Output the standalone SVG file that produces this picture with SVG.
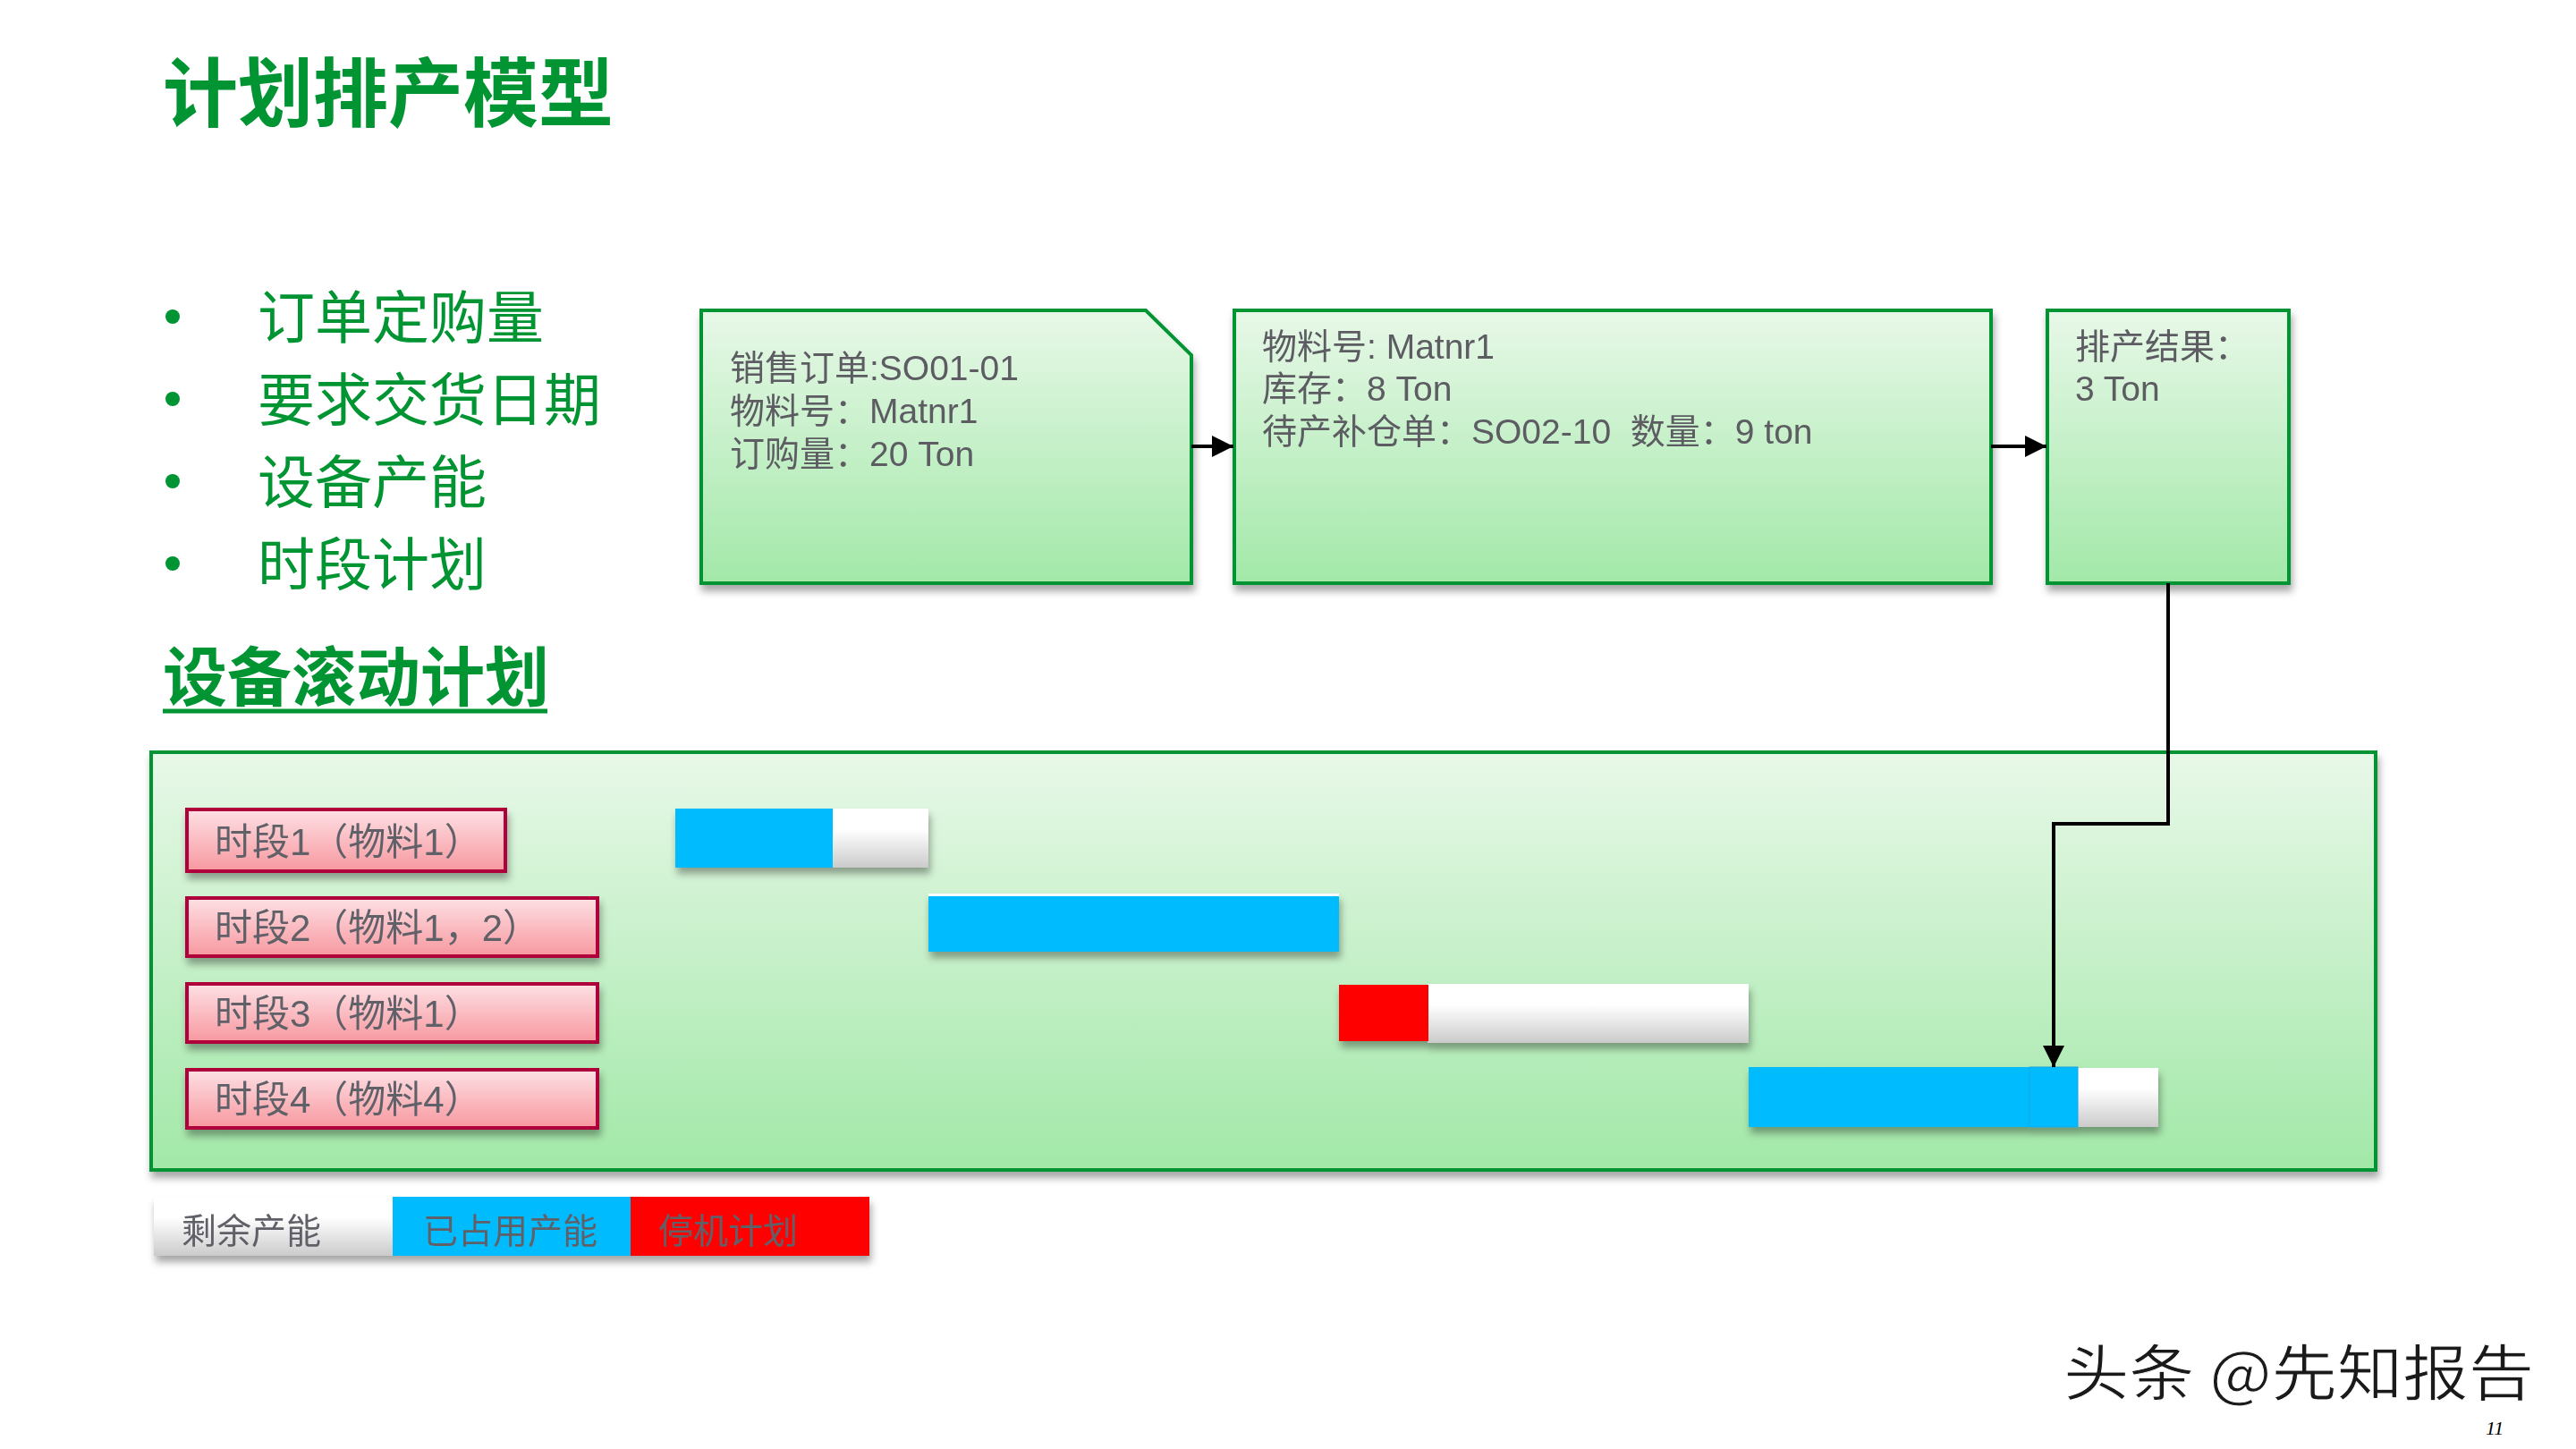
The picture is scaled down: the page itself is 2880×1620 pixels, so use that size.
<svg xmlns="http://www.w3.org/2000/svg" width="2880" height="1620" viewBox="0 0 2880 1620">
<style>
.head{font-family:"Noto Sans CJK SC","Liberation Sans",sans-serif;font-weight:bold;fill:#009432}
.bul{font-family:"Noto Sans CJK SC","Liberation Sans",sans-serif;fill:#009432;font-size:64px}
.bt{font-family:"Liberation Sans","Noto Sans CJK SC",sans-serif;fill:#5B5B62;font-size:39px}
.lt{font-family:"Liberation Sans","Noto Sans CJK SC",sans-serif;fill:#606068;font-size:42px}
.gt{font-family:"Noto Sans CJK SC","Liberation Sans",sans-serif;fill:#606068;font-size:39px}
.box{fill:url(#gGreen);stroke:#009432;stroke-width:4}
.lab{fill:url(#gPink);stroke:#B0003A;stroke-width:4}
.blue{fill:#06BCFF}
.red{fill:#FF0505}
.wht{fill:url(#gWhite)}
.conn{fill:none;stroke:#000;stroke-width:4}
</style>
<defs>
<linearGradient id="gGreen" x1="0" y1="0" x2="0" y2="1"><stop offset="0" stop-color="#E8F8E8"/><stop offset="1" stop-color="#A2E8A8"/></linearGradient>
<linearGradient id="gPink" x1="0" y1="0" x2="0" y2="1"><stop offset="0" stop-color="#FDE0E4"/><stop offset="1" stop-color="#F7989F"/></linearGradient>
<linearGradient id="gWhite" x1="0" y1="0" x2="0" y2="1"><stop offset="0" stop-color="#FFFFFF"/><stop offset="0.35" stop-color="#FFFFFF"/><stop offset="1" stop-color="#CBCBCB"/></linearGradient>
<filter id="sh" x="-10%" y="-20%" width="120%" height="150%"><feDropShadow dx="2" dy="7" stdDeviation="4" flood-color="#000" flood-opacity="0.35"/></filter>
<marker id="arr" markerUnits="userSpaceOnUse" markerWidth="24" markerHeight="24" viewBox="0 0 24 24" refX="24" refY="12" orient="auto"><path d="M0,0 L24,12 L0,24 Z" fill="#000"/></marker>
</defs>
<rect width="2880" height="1620" fill="#FFFFFF"/>

<g id="title"><text class="head" x="182" y="135" font-size="84">计划排产模型</text></g>

<g id="bullets">
<circle cx="193" cy="354" r="8" fill="#009432"/>
<circle cx="193" cy="446" r="8" fill="#009432"/>
<circle cx="193" cy="538" r="8" fill="#009432"/>
<circle cx="193" cy="630" r="8" fill="#009432"/>
<text class="bul" x="288" y="378">订单定购量</text>
<text class="bul" x="288" y="470">要求交货日期</text>
<text class="bul" x="288" y="562">设备产能</text>
<text class="bul" x="288" y="654">时段计划</text>
</g>

<g id="subtitle">
<text class="head" x="182" y="783" font-size="72">设备滚动计划</text>
<line x1="182" y1="795" x2="612" y2="795" stroke="#009432" stroke-width="5"/>
</g>

<g id="node-order" filter="url(#sh)">
<path class="box" d="M784,347 H1281 L1332,397 V652 H784 Z"/>
<text class="bt" x="816" y="425">销售订单:SO01-01</text>
<text class="bt" x="816" y="473">物料号：Matnr1</text>
<text class="bt" x="816" y="521">订购量：20 Ton</text>
</g>

<g id="node-material" filter="url(#sh)">
<rect class="box" x="1380" y="347" width="846" height="305"/>
<text class="bt" x="1411" y="401">物料号: Matnr1</text>
<text class="bt" x="1411" y="448">库存：8 Ton</text>
<text class="bt" x="1411" y="496" xml:space="preserve">待产补仓单：SO02-10  数量：9 ton</text>
</g>

<g id="node-result" filter="url(#sh)">
<rect class="box" x="2289" y="347" width="270" height="305"/>
<text class="bt" x="2320" y="401">排产结果：</text>
<text class="bt" x="2320" y="448">3 Ton</text>
</g>

<g id="panel" filter="url(#sh)">
<rect class="box" x="169" y="841" width="2487" height="467"/>
</g>

<g id="label-1" filter="url(#sh)"><rect class="lab" x="209" y="905" width="356" height="69"/><text class="lt" x="240" y="956">时段1（物料1）</text></g>
<g id="label-2" filter="url(#sh)"><rect class="lab" x="209" y="1004" width="459" height="65"/><text class="lt" x="240" y="1052">时段2（物料1，2）</text></g>
<g id="label-3" filter="url(#sh)"><rect class="lab" x="209" y="1100" width="459" height="65"/><text class="lt" x="240" y="1148">时段3（物料1）</text></g>
<g id="label-4" filter="url(#sh)"><rect class="lab" x="209" y="1196" width="459" height="65"/><text class="lt" x="240" y="1244">时段4（物料4）</text></g>

<g id="bar-1" filter="url(#sh)"><rect class="wht" x="931" y="904" width="107" height="66"/><rect class="blue" x="755" y="904" width="176" height="66"/></g>
<g id="bar-2" filter="url(#sh)"><rect class="wht" x="1038" y="999" width="459" height="65"/><rect class="blue" x="1038" y="1002" width="459" height="62"/></g>
<g id="bar-3" filter="url(#sh)"><rect class="wht" x="1596" y="1100" width="359" height="66"/><rect class="red" x="1497" y="1101" width="100" height="63"/></g>
<g id="bar-4" filter="url(#sh)"><rect class="wht" x="2322" y="1194" width="91" height="66"/><rect class="blue" x="1955" y="1193" width="314" height="67"/><rect class="blue" x="2269" y="1193" width="54" height="67" stroke="#1BA6DE" stroke-width="1"/></g>

<g id="connectors">
<line class="conn" x1="1332" y1="499" x2="1379" y2="499" marker-end="url(#arr)"/>
<line class="conn" x1="2226" y1="499" x2="2288" y2="499" marker-end="url(#arr)"/>
<path class="conn" d="M2424,652 V921 H2296 V1193" marker-end="url(#arr)"/>
</g>

<g id="legend" filter="url(#sh)">
<rect class="wht" x="172" y="1338" width="267" height="66"/>
<rect class="blue" x="439" y="1338" width="266" height="66"/>
<rect class="red" x="705" y="1338" width="267" height="66"/>
<text class="gt" x="203" y="1390">剩余产能</text>
<text class="gt" x="473" y="1390">已占用产能</text>
<text class="gt" x="736" y="1390">停机计划</text>
</g>

<g id="watermark">
<text x="2307" y="1560" font-family="Noto Sans CJK SC,Liberation Sans,sans-serif" font-size="68" fill="#1A1A1A" stroke="#FFFFFF" stroke-width="1" textLength="526" lengthAdjust="spacingAndGlyphs">头条 @先知报告</text>
<text x="2779" y="1604" font-family="Liberation Serif,serif" font-style="italic" font-size="22" fill="#000">11</text>
</g>
</svg>
